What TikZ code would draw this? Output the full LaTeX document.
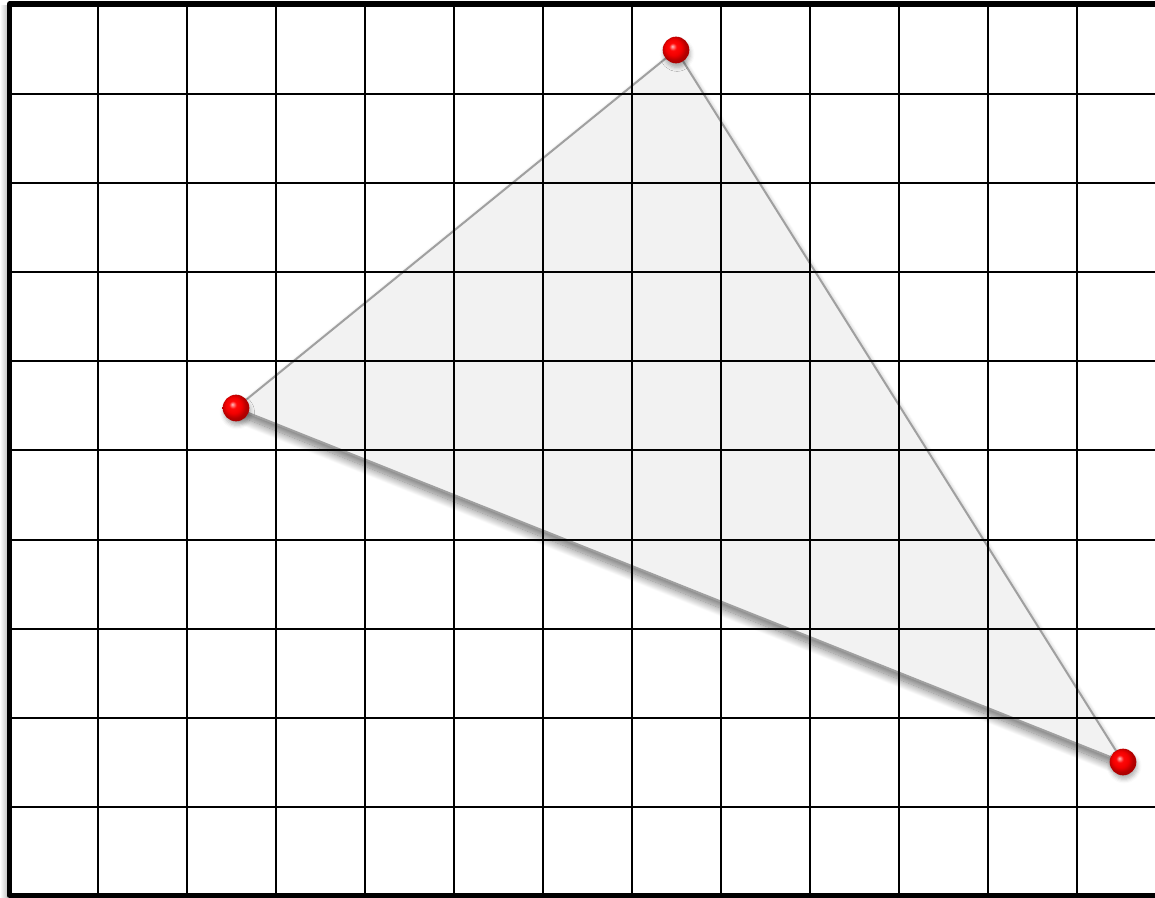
\documentclass[tikz,border=0pt]{standalone}
\usepackage{tikz}
\usetikzlibrary{calc,shadows.blur}

\definecolor{trifill}{RGB}{242,242,242}
\definecolor{triedge}{RGB}{160,160,160}
\pgfdeclareradialshading{redball}{\pgfpoint{-7bp}{7bp}}{%
  color(0bp)=(red!25!white); color(7bp)=(red!97!white); color(15bp)=(red!95!black);
  color(23bp)=(red!70!black); color(50bp)=(red!50!black)}

\tikzset{
  gridline/.style={line width=1.5pt, black},
  frameline/.style={line width=3.9pt, black, line join=round},
  vertexball/.style={circle, inner sep=0pt, minimum size=20pt, shading=redball,
    blur shadow={shadow xshift=0.8pt, shadow yshift=-3pt, shadow blur radius=3pt, shadow opacity=30}}
}

\begin{document}
\begin{tikzpicture}[x=0.75pt,y=0.75pt,yscale=-1,xscale=1]
  \useasboundingbox (0,0) rectangle (1155,898);

    % soft shadow left of the frame
    \shade [left color=white, right color=black!25] (0,6) rectangle (8,898);

    % Triangle
    \coordinate (top) at (676,50);
    \coordinate (lft) at (236,408);
    \coordinate (rgt) at (1123,762);
    \fill [trifill, blur shadow={shadow xshift=0pt, shadow yshift=-5pt, shadow blur radius=6pt,
      shadow blur steps=20, shadow opacity=55}]
      (top) -- (lft) -- (rgt) -- cycle;
    \draw [triedge, line width=1.5pt] (top) -- (lft) -- (rgt) -- cycle;

    % Grid
    \foreach \gx in {98,187,...,1077}
      \draw [gridline] (\gx,4) -- (\gx,895);
    \foreach \gy in {94,183.1,...,807}
      \draw [gridline] (9.5,\gy) -- (1155,\gy);

    % Frame: left, top and bottom
    \draw [frameline] (1155,4) -- (9.5,4) -- (9.5,895.5) -- (1155,895.5);

    % Vertices
    \node [vertexball] (A) at (top) {};
    \node [vertexball] (B) at (lft) {};
    \node [vertexball] (C) at (rgt) {};

  \end{tikzpicture}
\end{document}
